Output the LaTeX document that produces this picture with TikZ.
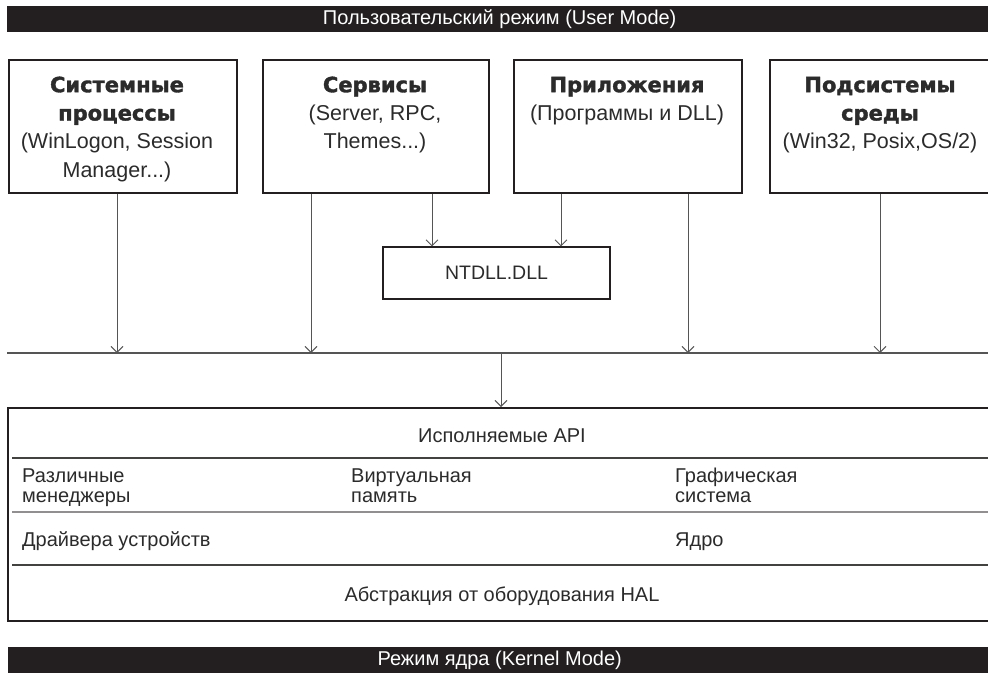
\documentclass[tikz,border=0pt]{standalone}
\usepackage{fontspec}
\setmainfont{Liberation Sans}
\newfontfamily\headfont{DejaVu Sans}[BoldFeatures={FakeBold=1.6}]
\usetikzlibrary{arrows.meta}
\definecolor{ink}{HTML}{231F20}
\definecolor{wire}{HTML}{555555}
\definecolor{txt}{HTML}{2B2B2B}
\newcommand\headbold{\headfont\bfseries\fontsize{21}{28.3}\selectfont}
\newcommand\firstline{\rule{0pt}{17pt}}

\begin{document}
\begin{tikzpicture}[x=1pt, y=-1pt,
  modebar/.style={fill=ink, text=white, anchor=north west, inner sep=0,
    minimum height=26pt, font=\fontsize{20}{24}\selectfont},
  frame/.style={draw=ink, line width=1.8pt, anchor=north west, inner sep=0,
    minimum height=133pt},
  headtext/.style={anchor=north, inner sep=0, align=center, text=txt,
    font=\fontsize{21.5}{28.3}\selectfont},
  bodytext/.style={anchor=north west, inner sep=0, align=left, text=txt,
    font=\fontsize{20}{20}\selectfont},
  centertext/.style={anchor=north, inner sep=0, text=txt,
    font=\fontsize{20}{20}\selectfont},
  conn/.style={draw=wire, line width=0.9pt,
    -{Straight Barb[length=6pt, width=12pt]}},
  rule/.style={line width=1.3pt},
]
\useasboundingbox (0,0) rectangle (988,673);
\clip (0,0) rectangle (988,673);

% mode bars
\node[modebar, minimum width=985pt] (um) at (7,6) {Пользовательский режим (User Mode)};
\node[modebar, minimum width=983pt] (km) at (8,647) {Режим ядра (Kernel Mode)};

% user-mode components
\node[frame, minimum width=228pt] (sys) at (8,59) {};
\node[frame, minimum width=226pt] (svc) at (262,59) {};
\node[frame, minimum width=228pt] (app) at (513,59) {};
\node[frame, minimum width=222pt] (env) at (769,59) {};

\node[headtext] (sysT) at (117,75) {\firstline{\headbold Системные}\\{\headbold процессы}\\(WinLogon, Session\\Manager...)};
\node[headtext] (svcT) at (375,75) {\firstline{\headbold Сервисы}\\(Server, RPC,\\Themes...)};
\node[headtext] (appT) at (627,75) {\firstline{\headbold Приложения}\\(Программы и DLL)};
\node[headtext] (envT) at (880,75) {\firstline{\headbold Подсистемы}\\{\headbold среды}\\(Win32, Posix,OS/2)};

% native API library
\node[draw=ink, line width=1.2pt, minimum width=227pt, minimum height=52pt,
  inner sep=0, text=txt, font=\fontsize{19.5}{22}\selectfont] (dll) at (496.5,273) {NTDLL.DLL};

% system call bus
\coordinate (busL) at (7,353);
\coordinate (busR) at (995,353);
\draw[draw=wire, line width=1.3pt] (busL) -- (busR);

% executive block
\node[frame, line width=2.2pt, minimum width=990pt, minimum height=213pt] (exec) at (7,407) {};
\draw[rule, draw=ink!85] (12,458) -- (995,458);
\draw[rule, draw=ink!50] (12,512) -- (995,512);
\draw[rule, draw=ink!85] (12,565) -- (995,565);

\node[centertext] (api) at (502,425) {\firstline Исполняемые API};
\node[bodytext] (mgr) at (22,465) {\firstline Различные\\менеджеры};
\node[bodytext] (vm) at (351,465) {\firstline Виртуальная\\память};
\node[bodytext] (gfx) at (675,465) {\firstline Графическая\\система};
\node[bodytext] (drv) at (22,529) {\firstline Драйвера устройств};
\node[bodytext] (krn) at (675,529) {\firstline Ядро};
\node[centertext] (hal) at (502,584) {\firstline Абстракция от оборудования HAL};

% connectors
\coordinate (x1) at (117,0);
\coordinate (x2) at (311,0);
\coordinate (x3) at (432,0);
\coordinate (x4) at (561,0);
\coordinate (x5) at (688,0);
\coordinate (x6) at (880,0);
\coordinate (x7) at (501,0);
\draw[conn] (sys.south -| x1) -- (busL -| x1);
\draw[conn] (svc.south -| x2) -- (busL -| x2);
\draw[conn] (svc.south -| x3) -- (dll.north -| x3);
\draw[conn] (app.south -| x4) -- (dll.north -| x4);
\draw[conn] (app.south -| x5) -- (busL -| x5);
\draw[conn] (env.south -| x6) -- (busL -| x6);
\draw[conn] (busL -| x7) -- (exec.north -| x7);
\end{tikzpicture}
\end{document}
